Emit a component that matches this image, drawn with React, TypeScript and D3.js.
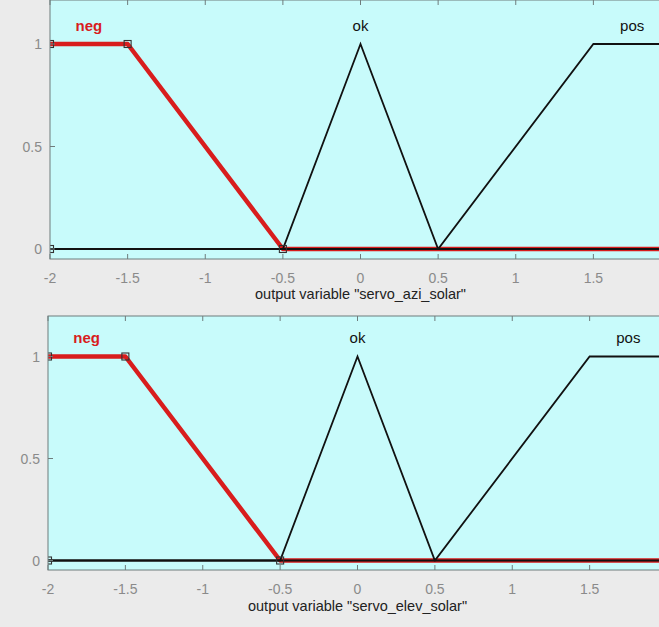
import React, { useEffect, useRef } from "react";
import * as d3 from "d3";

// membership functions of the output variables (same for both)
const xTicks = [-2, -1.5, -1, -0.5, 0, 0.5, 1, 1.5, 2];
const yTicks = [0, 0.5, 1];
const mfNames = ["neg", "ok", "pos"];
const mfLabelX = [-1.75, 0, 1.75];
const negX = [-2, -1.5, -0.5, 2];
const negY = [1, 1, 0, 0];
const okX = [-2, -0.5, 0, 0.5, 2];
const okY = [0, 0, 1, 0, 0];
const posX = [-2, 0.5, 1.5, 2];
const posY = [0, 0, 1, 1];
const negParamX = [-2, -2, -1.5, -0.5];
const negParamY = [0, 1, 1, 0];
const varTitles = [
  'output variable "servo_azi_solar"',
  'output variable "servo_elev_solar"',
];

const W = 659;
const H = 627;
const FONT = '"Liberation Sans", Arial, Helvetica, sans-serif';

export default function App() {
  const ref = useRef<SVGSVGElement>(null);

  useEffect(() => {
    drawChart();
  }, []);

  function drawChart() {
    const svg = d3.select(ref.current);
    svg.selectAll("*").remove();

    svg.append("rect").attr("width", W).attr("height", H).attr("fill", "#ebebeb");

    const panels = [
      { left: 50, right: 671, top: 0, y0: 249, y1: 44, bottom: 259, tickY: 282.5, titleY: 299 },
      { left: 48, right: 667, top: 316, y0: 560.5, y1: 356.5, bottom: 570, tickY: 594, titleY: 611 },
    ];

    panels.forEach((p, pi) => {
      const x = d3.scaleLinear().domain([-2, 2]).range([p.left, p.right]);
      const y = d3.scaleLinear().domain([0, 1]).range([p.y0, p.y1]);
      const g = svg.append("g");

      const clipId = "clip" + pi;
      g.append("clipPath")
        .attr("id", clipId)
        .append("rect")
        .attr("x", p.left)
        .attr("y", p.top)
        .attr("width", p.right - p.left)
        .attr("height", p.bottom - p.top);

      g.append("rect")
        .attr("x", p.left)
        .attr("y", p.top)
        .attr("width", p.right - p.left)
        .attr("height", p.bottom - p.top)
        .attr("fill", "#c8fbfb");

      const marks = g.append("g").attr("clip-path", `url(#${clipId})`);
      const line = d3
        .line<[number, number]>()
        .x((d) => x(d[0]))
        .y((d) => y(d[1]));

      const pts = (xs: number[], ys: number[]) =>
        xs.map((v, i) => [v, ys[i]] as [number, number]);

      marks.append("path")
        .attr("d", line(pts(negX, negY)))
        .attr("fill", "none")
        .attr("stroke", "#d81d1d")
        .attr("stroke-width", 4.5)
        .attr("stroke-linejoin", "round");

      [pts(okX, okY), pts(posX, posY)].forEach((d) => {
        marks.append("path")
          .attr("d", line(d))
          .attr("fill", "none")
          .attr("stroke", "#111")
          .attr("stroke-width", 1.8);
      });

      marks.selectAll(".mk")
        .data(pts(negParamX, negParamY))
        .enter()
        .append("rect")
        .attr("x", (d) => x(d[0]) - 3.5)
        .attr("y", (d) => y(d[1]) - 3.5)
        .attr("width", 7)
        .attr("height", 7)
        .attr("fill", "none")
        .attr("stroke", "#333")
        .attr("stroke-width", 1.1);

      // mf labels
      mfNames.forEach((name, i) => {
        g.append("text")
          .attr("x", x(mfLabelX[i]))
          .attr("y", y(1.065))
          .attr("text-anchor", "middle")
          .attr("font-family", FONT)
          .attr("font-size", 15)
          .attr("font-weight", i === 0 ? "bold" : "normal")
          .attr("fill", i === 0 ? "#d81d1d" : "#111")
          .text(name);
      });

      // box
      const axisColor = "#6f7c7c";
      g.append("rect")
        .attr("x", p.left)
        .attr("y", p.top)
        .attr("width", p.right - p.left)
        .attr("height", p.bottom - p.top)
        .attr("fill", "none")
        .attr("stroke", axisColor)
        .attr("stroke-width", 1);

      // x ticks (inside)
      xTicks.forEach((t) => {
        g.append("line")
          .attr("x1", x(t)).attr("x2", x(t))
          .attr("y1", p.bottom).attr("y2", p.bottom - 5)
          .attr("stroke", axisColor);
        g.append("line")
          .attr("x1", x(t)).attr("x2", x(t))
          .attr("y1", p.top).attr("y2", p.top + 5)
          .attr("stroke", axisColor);
        if (x(t) + 6 > W) return; // label falls off the figure
        g.append("text")
          .attr("x", x(t))
          .attr("y", p.tickY)
          .attr("text-anchor", "middle")
          .attr("font-family", FONT)
          .attr("font-size", 14)
          .attr("fill", "#8a8a8a")
          .text(String(t));
      });

      yTicks.forEach((t) => {
        g.append("line")
          .attr("x1", p.left).attr("x2", p.left + 5)
          .attr("y1", y(t)).attr("y2", y(t))
          .attr("stroke", axisColor);
        g.append("text")
          .attr("x", p.left - 8)
          .attr("y", y(t))
          .attr("dy", "0.36em")
          .attr("text-anchor", "end")
          .attr("font-family", FONT)
          .attr("font-size", 14)
          .attr("fill", "#8a8a8a")
          .text(String(t));
      });

      g.append("text")
        .attr("x", x(0))
        .attr("y", p.titleY)
        .attr("text-anchor", "middle")
        .attr("font-family", FONT)
        .attr("font-size", 14.5)
        .attr("fill", "#222")
        .text(varTitles[pi]);
    });
  }

  return (
    <svg
      ref={ref}
      width={W}
      height={H}
      style={{ position: "absolute", left: 0, top: 0, display: "block" }}
    />
  );
}
